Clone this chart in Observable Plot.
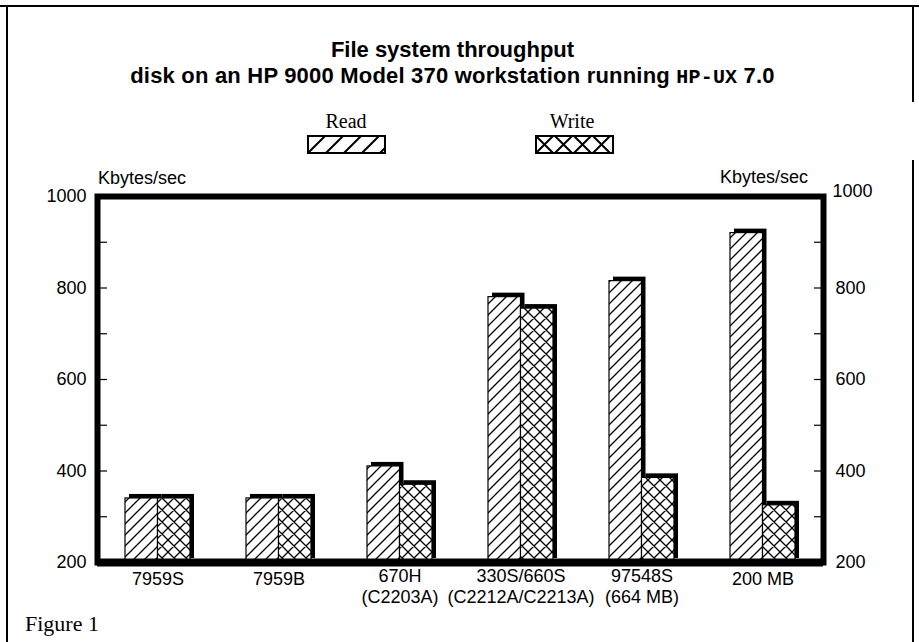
<!DOCTYPE html>
<html>
<head>
<meta charset="utf-8">
<script src="https://cdn.jsdelivr.net/npm/d3@7"></script>
<script src="https://cdn.jsdelivr.net/npm/@observablehq/plot@0.6"></script>
<style>
  html, body { margin: 0; padding: 0; background: #fff; }
  body { width: 919px; height: 642px; position: relative; overflow: hidden;
         font-family: "Liberation Sans", Arial, sans-serif; color: #000; }
  #chart { position: absolute; left: 0; top: 0; }
  .abs { position: absolute; white-space: nowrap; }
  .title { left: 0; width: 905px; text-align: center; font-weight: bold; font-size: 22px; line-height: 1; }
  .mono { font-family: "Liberation Mono", "DejaVu Sans Mono", monospace; font-weight: bold; font-size: 20px; line-height: 1; }
  .leg { font-family: "Liberation Serif", "Times New Roman", serif; font-size: 20px; text-align: center; width: 100px; }
  .unit { font-size: 18px; }
  .fig { font-family: "Liberation Serif", "Times New Roman", serif; font-size: 22px; left: 25px; top: 611px; }
  .bord { position: absolute; background: #000; }
</style>
</head>
<body>
<div id="chart"></div>

<div class="abs title" style="top:39px;">File system throughput</div>
<div class="abs title" style="top:65px; letter-spacing:0.2px;">disk on an HP 9000 Model 370 workstation running <span class="mono">HP-UX</span> 7.0</div>

<div class="abs leg" style="left:296px; top:110px;">Read</div>
<div class="abs leg" style="left:522px; top:110px;">Write</div>
<svg class="abs" style="left:307px; top:135px;" width="80" height="20"><rect x="1" y="1" width="77" height="17" fill="url(#readLeg)" stroke="#000" stroke-width="2"/></svg>
<svg class="abs" style="left:535px; top:135px;" width="80" height="20"><rect x="1" y="1" width="77" height="17" fill="url(#writeLeg)" stroke="#000" stroke-width="2"/></svg>

<div class="abs unit" style="left:98px; top:168px;">Kbytes/sec</div>
<div class="abs unit" style="left:720px; top:167px;">Kbytes/sec</div>

<div class="abs fig">Figure 1</div>

<div class="bord" style="left:0; top:5px; width:919px; height:2px;"></div>
<div class="bord" style="left:6px; top:7px; width:2px; height:635px;"></div>
<div class="bord" style="left:912px; top:7px; width:2px; height:95px;"></div>
<div class="bord" style="left:912px; top:160px; width:2px; height:482px;"></div>

<script>
// ---- data ----
const categories = ["7959S", "7959B", "670H\n(C2203A)", "330S/660S\n(C2212A/C2213A)", "97548S\n(664 MB)", "200 MB"];
const readValues  = [340, 340, 410, 780, 815, 920];
const writeValues = [340, 340, 370, 755, 385, 325];
const yTickLabels = [200, 400, 600, 800, 1000];
const yMinorTicks = [300, 400, 500, 600, 700, 800, 900];
const yBase = 200;

const rows = categories.map((c, i) => ({category: c, read: readValues[i], write: writeValues[i]}));

// layout
const W = 919, H = 642, mL = 97, mR = 96, mT = 196, mB = 80;
const padIn = 0.465, padOut = 0.22;
const step = (W - mL - mR) / (categories.length - padIn + 2 * padOut);
const half = step * (1 - padIn) / 2;

const fontStack = "'Liberation Sans', Arial, sans-serif";
const fmt = d => String(d);

const chart = Plot.plot({
  width: W, height: H,
  marginLeft: mL, marginRight: mR, marginTop: mT, marginBottom: mB,
  style: {fontFamily: fontStack, fontSize: "18px", background: "transparent", color: "#000", overflow: "visible"},
  x: {domain: categories, paddingInner: padIn, paddingOuter: padOut, axis: null, label: null},
  y: {domain: [200, 1000], axis: null, label: null},
  marks: [
    // read bars: shadow + patterned face
    Plot.barY(rows, {x: "category", y1: yBase, y2: "read", insetRight: half, dx: 4, dy: -4, fill: "#000"}),
    Plot.barY(rows, {x: "category", y1: yBase, y2: "read", insetRight: half, fill: "url(#readPat)", stroke: "#000", strokeWidth: 1.2}),
    // write bars: shadow + patterned face
    Plot.barY(rows, {x: "category", y1: yBase, y2: "write", insetLeft: half, dx: 4, dy: -4, fill: "#000"}),
    Plot.barY(rows, {x: "category", y1: yBase, y2: "write", insetLeft: half, fill: "url(#writePat)", stroke: "#000", strokeWidth: 1.2}),
    // frame
    Plot.frame({stroke: "#000", strokeWidth: 6}),
    Plot.ruleY([yBase], {stroke: "#000", strokeWidth: 8}),
    // y axes
    Plot.axisY(yTickLabels, {anchor: "left", tickSize: 0, tickPadding: 11, fontSize: 18, tickFormat: fmt}),
    Plot.axisY(yMinorTicks, {anchor: "left", tickSize: -10, text: null, strokeWidth: 1.2}),
    Plot.axisY(yTickLabels.filter(d => d !== 1000), {anchor: "right", tickSize: 0, tickPadding: 12, fontSize: 18, tickFormat: fmt}),
    Plot.axisY([1000], {anchor: "right", tickSize: 0, tickPadding: 9, dy: -5, fontSize: 18, tickFormat: fmt}),
    Plot.axisY(yMinorTicks, {anchor: "right", tickSize: -10, text: null, strokeWidth: 1.2}),
    // x axis labels
    Plot.axisX(categories.filter(c => c.includes("\n")), {anchor: "bottom", tickSize: 0, tickPadding: 4, lineHeight: 1.2, fontSize: 18}),
    Plot.axisX(categories.filter(c => !c.includes("\n")), {anchor: "bottom", tickSize: 0, tickPadding: 10, fontSize: 18})
  ]
});

d3.select(chart).insert("defs", ":first-child").html(`
  <pattern id="readPat" patternUnits="userSpaceOnUse" width="11" height="11">
    <rect width="11" height="11" fill="#fff"/>
    <path d="M-2,2 L2,-2 M0,11 L11,0 M9,13 L13,9" stroke="#000" stroke-width="1.3"/>
  </pattern>
  <pattern id="writePat" patternUnits="userSpaceOnUse" width="12" height="12">
    <rect width="12" height="12" fill="#fff"/>
    <path d="M-2,2 L2,-2 M0,12 L12,0 M10,14 L14,10 M-2,10 L2,14 M0,0 L12,12 M10,-2 L14,2" stroke="#000" stroke-width="1.3"/>
  </pattern>
  <pattern id="readLeg" patternUnits="userSpaceOnUse" width="18" height="18" patternTransform="translate(0,1)">
    <rect width="18" height="18" fill="#fff"/>
    <path d="M-3,3 L3,-3 M0,18 L18,0 M15,21 L21,15" stroke="#000" stroke-width="2"/>
  </pattern>
  <pattern id="writeLeg" patternUnits="userSpaceOnUse" width="19" height="19" patternTransform="translate(0,0)">
    <rect width="19" height="19" fill="#fff"/>
    <path d="M-3,3 L3,-3 M0,19 L19,0 M16,22 L22,16 M-3,16 L3,22 M0,0 L19,19 M16,-3 L22,3" stroke="#000" stroke-width="2"/>
  </pattern>
`);

document.getElementById("chart").appendChild(chart);
</script>
</body>
</html>
